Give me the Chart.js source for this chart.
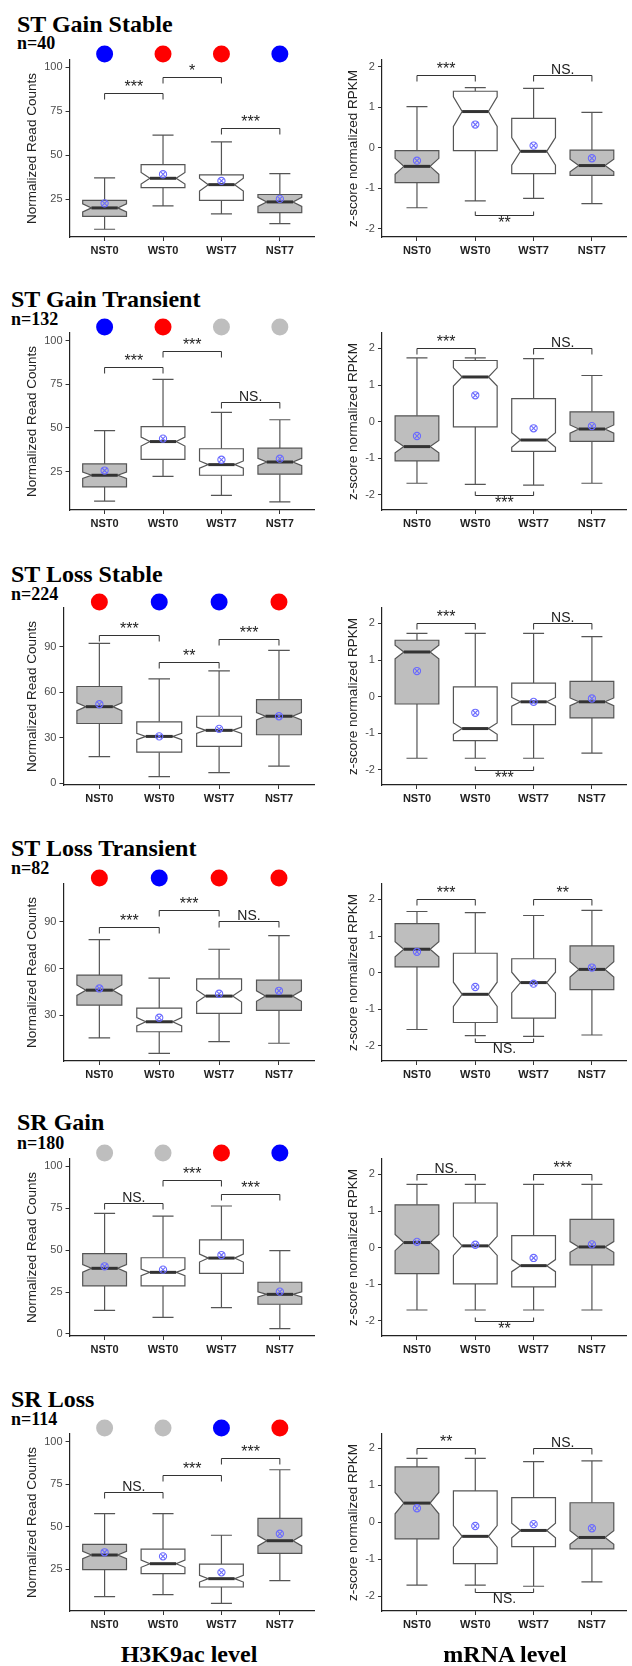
<!DOCTYPE html>
<html>
<head>
<meta charset="utf-8">
<script src="https://cdn.jsdelivr.net/npm/chart.js@4.4.1/dist/chart.umd.min.js"></script>
<style>
  body { margin: 0; background: #fff; width: 632px; height: 1666px; position: relative; overflow: hidden; }
  canvas { position: absolute; }
  .t { position: absolute; font-family: 'Liberation Serif', 'Times New Roman', serif; font-weight: bold; color: #000; white-space: nowrap; line-height: 1; }
</style>
</head>
<body>
<script>
// ---- data ----
const categories = ['NST0', 'WST0', 'WST7', 'NST7'];
const groups = ['ST Gain Stable', 'ST Gain Transient', 'ST Loss Stable', 'ST Loss Transient', 'SR Gain', 'SR Loss'];
const groupN = [40, 132, 224, 82, 180, 114];

// H3K9ac call per sample: up = red, down = blue, ns = grey
const acCalls = [
  ['down', 'up', 'up', 'down'],
  ['down', 'up', 'ns', 'ns'],
  ['up', 'down', 'down', 'up'],
  ['up', 'down', 'up', 'up'],
  ['ns', 'ns', 'up', 'down'],
  ['ns', 'ns', 'down', 'up']
];

// H3K9ac normalized read counts (rows = groups, cols = categories)
const acMin  = [[8.0, 21.2, 16.7, 11.2], [8.1, 22.3, 11.4, 7.6], [17.6, 4.4, 7.0, 11.3], [15.5, 5.6, 13.1, 12.1], [14.1, 9.9, 15.7, 3.2], [9.0, 10.1, 5.0, 18.3]];
const acQ1   = [[15.3, 31.6, 24.4, 17.4], [16.3, 32.0, 22.9, 23.5], [39.4, 20.5, 24.4, 32.0], [36.6, 19.5, 31.3, 33.2], [28.6, 28.6, 36.1, 17.7], [24.8, 22.5, 14.6, 34.4]];
const acMed  = [[20.1, 36.9, 33.3, 23.5], [22.9, 42.2, 29.0, 30.5], [50.5, 30.9, 34.9, 44.2], [46.2, 25.9, 42.4, 42.4], [39.1, 36.7, 45.2, 23.6], [33.4, 28.3, 19.5, 41.8]];
const acQ3   = [[24.4, 44.7, 38.8, 27.7], [29.4, 50.8, 38.1, 38.4], [63.8, 40.5, 44.2, 55.1], [55.9, 34.7, 53.5, 52.6], [47.8, 45.4, 56.0, 30.8], [39.7, 36.9, 28.1, 54.9]];
const acMax  = [[37.1, 61.4, 57.6, 39.6], [48.5, 77.8, 58.9, 54.7], [92.2, 68.8, 74.1, 87.6], [78.7, 53.9, 72.5, 81.3], [71.8, 70.2, 76.2, 49.6], [57.7, 57.7, 45.0, 83.5]];
const acMean = [[22.7, 39.2, 35.4, 25.2], [25.6, 43.9, 31.8, 32.4], [52.1, 30.9, 35.9, 44.2], [47.3, 28.5, 43.9, 45.8], [40.3, 38.3, 47.0, 25.2], [35.0, 32.6, 23.2, 45.9]];

// mRNA z-score normalized RPKM
const rnaMin  = [[-1.48, -1.31, -1.25, -1.38], [-1.68, -1.71, -1.73, -1.68], [-1.68, -1.68, -1.68, -1.54], [-1.55, -1.72, -1.74, -1.70], [-1.70, -1.70, -1.70, -1.70], [-1.70, -1.70, -1.73, -1.61]];
const rnaQ1   = [[-0.86, -0.07, -0.64, -0.68], [-1.07, -0.14, -0.81, -0.54], [-0.20, -1.20, -0.76, -0.58], [0.16, -1.36, -1.24, -0.46], [-0.71, -0.99, -1.07, -0.47], [-0.45, -1.12, -0.66, -0.72]];
const rnaMed  = [[-0.46, 0.89, -0.09, -0.44], [-0.68, 1.22, -0.50, -0.20], [1.22, -0.87, -0.14, -0.14], [0.64, -0.59, -0.27, 0.09], [0.14, 0.05, -0.49, 0.02], [0.52, -0.38, -0.22, -0.41]];
const rnaQ3   = [[-0.07, 1.39, 0.72, -0.06], [0.16, 1.67, 0.63, 0.27], [1.54, 0.27, 0.37, 0.42], [1.34, 0.53, 0.38, 0.73], [1.17, 1.22, 0.33, 0.77], [1.50, 0.85, 0.67, 0.53]];
const rnaMax  = [[1.01, 1.48, 1.46, 0.87], [1.74, 1.74, 1.72, 1.26], [1.73, 1.73, 1.73, 1.64], [1.67, 1.64, 1.56, 1.70], [1.73, 1.73, 1.73, 1.73], [1.73, 1.73, 1.64, 1.66]];
const rnaMean = [[-0.32, 0.57, 0.05, -0.26], [-0.39, 0.72, -0.18, -0.12], [0.70, -0.44, -0.14, -0.05], [0.57, -0.39, -0.30, 0.14], [0.16, 0.08, -0.28, 0.09], [0.38, -0.10, -0.05, -0.16]];

// axis ranges and ticks
const acYMin = [3.6, 3.0, -1.1, 0.7, -1.2, 0.5];
const acYMax = [104, 104.4, 115.5, 114.4, 104.2, 104.5];
const acTicks = [[25, 50, 75, 100], [25, 50, 75, 100], [0, 30, 60, 90], [30, 60, 90], [0, 25, 50, 75, 100], [25, 50, 75, 100]];
const rnaYMin = [-2.2, -2.41, -2.41, -2.41, -2.41, -2.4];
const rnaYMax = [2.16, 2.42, 2.42, 2.42, 2.42, 2.39];
const rnaTicks = [-2, -1, 0, 1, 2];

// significance brackets: [from, to, y, label, side] (side 1 = above, -1 = below)
const acBrackets = [
  [[0, 1, 85.2, '***', 1], [1, 2, 94.3, '*', 1], [2, 3, 65.3, '***', 1]],
  [[0, 1, 85.0, '***', 1], [1, 2, 93.9, '***', 1], [2, 3, 65.0, 'NS.', 1]],
  [[0, 1, 97.8, '***', 1], [1, 2, 80.2, '**', 1], [2, 3, 95.2, '***', 1]],
  [[0, 1, 86.8, '***', 1], [1, 2, 97.7, '***', 1], [2, 3, 90.5, 'NS.', 1]],
  [[0, 1, 77.8, 'NS.', 1], [1, 2, 91.9, '***', 1], [2, 3, 83.1, '***', 1]],
  [[0, 1, 70.2, 'NS.', 1], [1, 2, 80.2, '***', 1], [2, 3, 90.2, '***', 1]]
];
const rnaBrackets = [
  [[0, 1, 1.8, '***', 1], [2, 3, 1.8, 'NS.', 1], [1, 2, -1.67, '**', -1]],
  [[0, 1, 2.0, '***', 1], [2, 3, 2.0, 'NS.', 1], [1, 2, -2.0, '***', -1]],
  [[0, 1, 2.0, '***', 1], [2, 3, 2.0, 'NS.', 1], [1, 2, -1.99, '***', -1]],
  [[0, 1, 2.0, '***', 1], [2, 3, 2.0, '**', 1], [1, 2, -1.89, 'NS.', -1]],
  [[0, 1, 2.0, 'NS.', 1], [2, 3, 2.0, '***', 1], [1, 2, -2.0, '**', -1]],
  [[0, 1, 2.0, '**', 1], [2, 3, 2.0, 'NS.', 1], [1, 2, -1.88, 'NS.', -1]]
];

// ---- layout / style ----
const axisTop = [60, 333, 608, 884, 1159, 1434];
const titleX = [17, 11, 11, 11, 17, 11];
const titleBase = [32, 307, 582, 856, 1130, 1407];
const nBase = [49, 325, 600, 874, 1149, 1425];
const PAD_TOP = 32, AREA_H = 177, XAXIS_H = 24;
const BOX_W = 0.75, CAP_W = 0.36, NOTCH_W = 0.6;
const callColor = { up: '#ff0000', down: '#0000ff', ns: '#bebebe' };
const fillColor = ['#bebebe', '#ffffff', '#ffffff', '#bebebe'];

Chart.defaults.font.family = "'Liberation Sans', Arial, sans-serif";

function addText(txt, x, base, size) {
  const d = document.createElement('div');
  d.className = 't';
  d.textContent = txt;
  d.style.fontSize = size + 'px';
  d.style.left = x + 'px';
  d.style.top = (base - size * 0.8375) + 'px';
  document.body.appendChild(d);
  return d;
}

function boxPlugin(stats, n, brackets, calls) {
  return {
    id: 'boxes',
    beforeDatasetsDraw(chart) {
      const { ctx, scales: { x, y } } = chart;
      const unit = x.getPixelForValue(2) - x.getPixelForValue(1);
      const half = unit * BOX_W / 2, cap = unit * CAP_W / 2, ind = half * (1 - NOTCH_W);
      ctx.save();
      ctx.strokeStyle = '#555';
      ctx.lineWidth = 1.2;
      stats.forEach((s, i) => {
        const [mn, q1, md, q3, mx] = s;
        const xc = x.getPixelForValue(i + 1);
        const xl = xc - half, xr = xc + half;
        const nh = 1.58 * (q3 - q1) / Math.sqrt(n);
        // whiskers + caps
        ctx.beginPath();
        ctx.moveTo(xc, y.getPixelForValue(q3)); ctx.lineTo(xc, y.getPixelForValue(mx));
        ctx.moveTo(xc - cap, y.getPixelForValue(mx)); ctx.lineTo(xc + cap, y.getPixelForValue(mx));
        ctx.moveTo(xc, y.getPixelForValue(q1)); ctx.lineTo(xc, y.getPixelForValue(mn));
        ctx.moveTo(xc - cap, y.getPixelForValue(mn)); ctx.lineTo(xc + cap, y.getPixelForValue(mn));
        ctx.stroke();
        // notched box
        const Y = v => y.getPixelForValue(v);
        ctx.beginPath();
        ctx.moveTo(xl, Y(q3)); ctx.lineTo(xl, Y(md + nh)); ctx.lineTo(xl + ind, Y(md));
        ctx.lineTo(xl, Y(md - nh)); ctx.lineTo(xl, Y(q1)); ctx.lineTo(xr, Y(q1));
        ctx.lineTo(xr, Y(md - nh)); ctx.lineTo(xr - ind, Y(md)); ctx.lineTo(xr, Y(md + nh));
        ctx.lineTo(xr, Y(q3)); ctx.closePath();
        ctx.fillStyle = fillColor[i];
        ctx.fill(); ctx.stroke();
        // median
        ctx.save();
        ctx.strokeStyle = '#333'; ctx.lineWidth = 3;
        ctx.beginPath(); ctx.moveTo(xl + ind, Y(md)); ctx.lineTo(xr - ind, Y(md)); ctx.stroke();
        ctx.restore();
      });
      ctx.restore();
    },
    afterDatasetsDraw(chart) {
      const { ctx, scales: { x, y } } = chart;
      ctx.save();
      ctx.strokeStyle = '#333';
      ctx.fillStyle = '#222';
      ctx.lineWidth = 1;
      ctx.textAlign = 'center';
      brackets.forEach(([a, b, v, label, side]) => {
        const x1 = x.getPixelForValue(a + 1), x2 = x.getPixelForValue(b + 1);
        const yy = Math.round(y.getPixelForValue(v)) + 0.5;
        const tk = side > 0 ? 6 : -4;
        ctx.beginPath();
        ctx.moveTo(x1, yy + tk); ctx.lineTo(x1, yy); ctx.lineTo(x2, yy); ctx.lineTo(x2, yy + tk);
        ctx.stroke();
        ctx.font = label === 'NS.' ? "14px 'Liberation Sans', Arial" : "16px 'Liberation Sans', Arial";
        if (side > 0) { ctx.textBaseline = 'alphabetic'; ctx.fillText(label, (x1 + x2) / 2, yy - 1.5); }
        else { ctx.textBaseline = 'top'; ctx.fillText(label, (x1 + x2) / 2, yy); }
      });
      if (calls) {
        calls.forEach((c, i) => {
          ctx.beginPath();
          ctx.fillStyle = callColor[c];
          ctx.arc(x.getPixelForValue(i + 1), chart.chartArea.top - 6, 8.5, 0, Math.PI * 2);
          ctx.fill();
        });
      }
      ctx.restore();
    }
  };
}

function panel(left, width, padLeft, top, yMin, yMax, ticks, yTitle, stats, means, n, brackets, calls) {
  const cv = document.createElement('canvas');
  const h = PAD_TOP + AREA_H + XAXIS_H;
  cv.width = width; cv.height = h;
  cv.style.left = left + 'px'; cv.style.top = (top - PAD_TOP) + 'px';
  cv.style.width = width + 'px'; cv.style.height = h + 'px';
  document.body.appendChild(cv);
  const pts = means.map((m, i) => ({ x: i + 1, y: m }));
  new Chart(cv, {
    type: 'scatter',
    data: {
      datasets: [
        { data: pts, pointStyle: 'circle', pointRadius: 3.6, borderColor: '#6a6aff', backgroundColor: 'rgba(0,0,0,0)', borderWidth: 1.1 },
        { data: pts, pointStyle: 'crossRot', pointRadius: 3.6, borderColor: '#6a6aff', borderWidth: 1.1 }
      ]
    },
    options: {
      responsive: false,
      animation: false,
      layout: { padding: { top: PAD_TOP, left: padLeft, right: 1, bottom: 0 } },
      plugins: { legend: { display: false }, tooltip: { enabled: false } },
      scales: {
        x: {
          type: 'linear', min: 0.4, max: 4.6,
          afterBuildTicks: s => { s.ticks = categories.map((c, i) => ({ value: i + 1 })); },
          afterFit: s => { s.height = XAXIS_H; },
          ticks: { callback: v => categories[Math.round(v) - 1], font: { size: 11, weight: 'bold' }, color: '#222', padding: 3, maxRotation: 0 },
          grid: { drawOnChartArea: false, tickLength: 4, color: '#333' },
          border: { color: '#222', width: 1.2 }
        },
        y: {
          min: yMin, max: yMax,
          afterBuildTicks: s => { s.ticks = ticks.map(v => ({ value: v })); },
          ticks: { callback: v => String(v), font: { size: 11 }, color: '#4d4d4d', padding: 3 },
          grid: { drawOnChartArea: false, tickLength: 4, color: '#333' },
          border: { color: '#222', width: 1.2 },
          title: { display: true, text: yTitle, font: { size: 13.5 }, color: '#222', padding: { top: 4, bottom: 1 } }
        }
      }
    },
    plugins: [boxPlugin(stats, n, brackets, calls)]
  });
}

groups.forEach((g, r) => {
  addText(g, titleX[r], titleBase[r], 24);
  addText('n=' + groupN[r], titleX[r], nBase[r], 18);
  const acStats = categories.map((c, i) => [acMin[r][i], acQ1[r][i], acMed[r][i], acQ3[r][i], acMax[r][i]]);
  const rnaStats = categories.map((c, i) => [rnaMin[r][i], rnaQ1[r][i], rnaMed[r][i], rnaQ3[r][i], rnaMax[r][i]]);
  panel(0, 320, 20, axisTop[r], acYMin[r], acYMax[r], acTicks[r], 'Normalized Read Counts', acStats, acMean[r], groupN[r], acBrackets[r], acCalls[r]);
  panel(316, 316, 25, axisTop[r], rnaYMin[r], rnaYMax[r], rnaTicks, 'z-score normalized RPKM', rnaStats, rnaMean[r], groupN[r], rnaBrackets[r], null);
});

const lab1 = addText('H3K9ac level', 0, 1662, 24);
lab1.style.left = '189px'; lab1.style.transform = 'translateX(-50%)';
const lab2 = addText('mRNA level', 0, 1662, 24);
lab2.style.left = '505px'; lab2.style.transform = 'translateX(-50%)';
</script>
</body>
</html>
